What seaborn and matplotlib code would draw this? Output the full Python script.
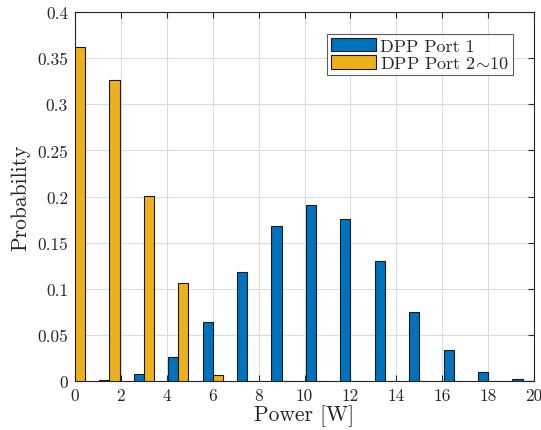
import numpy as np
import pandas as pd
import matplotlib
matplotlib.use("Agg")
import matplotlib.pyplot as plt
import seaborn as sns

# bin centres (W) and probabilities
power = [0, 1.5, 3, 4.5, 6, 7.5, 9, 10.5, 12, 13.5, 15, 16.5, 18, 19.5]
port1 = [0.0, 0.0015, 0.008, 0.026, 0.064, 0.118, 0.168, 0.191, 0.176, 0.130, 0.0746, 0.0333, 0.0102, 0.0022]
port2_10 = [0.3617, 0.3266, 0.2009, 0.1064, 0.0065, 0, 0, 0, 0, 0, 0, 0, 0, 0]

series_names = ["DPP Port 1", r"DPP Port 2$\!\sim\!$10"]
colors = ["#0072BD", "#EDB120"]

xticks = list(range(0, 21, 2))
yticks = [0, 0.05, 0.1, 0.15, 0.2, 0.25, 0.3, 0.35, 0.4]
ytick_labels = ["0", "0.05", "0.1", "0.15", "0.2", "0.25", "0.3", "0.35", "0.4"]

df = pd.DataFrame({
    "power": power * 2,
    "prob": port1 + port2_10,
    "series": [series_names[0]] * len(power) + [series_names[1]] * len(power),
})

sns.set_style("ticks")
plt.rcParams["font.family"] = ["cmr10", "DejaVu Serif"]
plt.rcParams["mathtext.fontset"] = "cm"
plt.rcParams["axes.formatter.use_mathtext"] = True
plt.rcParams["text.color"] = "#262626"

fig = plt.figure(figsize=(5.41, 4.31), dpi=100)
ax = fig.add_axes([75 / 541, 1 - 382 / 431, 459 / 541, 369 / 431])

sns.barplot(data=df, x="power", y="prob", hue="series", hue_order=series_names,
            palette=colors, saturation=1, native_scale=True, width=0.587, gap=0,
            edgecolor="#1a1a1a", linewidth=0.8, ax=ax, zorder=3)

ax.set_xlim(0, 20)
ax.set_ylim(0, 0.4)
ax.set_xticks(xticks)
ax.set_xticklabels([str(t) for t in xticks])
ax.set_yticks(yticks)
ax.set_yticklabels(ytick_labels)
ax.tick_params(direction="in", top=True, right=True, labelsize=12.5, length=4,
               width=0.8, pad=5, labelcolor="#262626")
ax.grid(True, color="#dddddd", linewidth=0.8, zorder=0)
ax.set_axisbelow(True)
for s in ax.spines.values():
    s.set_linewidth(0.8)
    s.set_color("#262626")

ax.set_xlabel("Power [W]", fontsize=15.5, labelpad=1)
ax.set_ylabel("Probability", fontsize=15.5, labelpad=5)

leg = ax.legend(loc="upper left", bbox_to_anchor=(252 / 459, 1 - 22 / 369), fontsize=13,
                frameon=True, fancybox=False, edgecolor="#333333",
                handlelength=2.5, handleheight=0.75, handletextpad=0.25,
                borderpad=0.2, labelspacing=0.1, borderaxespad=0)
leg.get_frame().set_linewidth(0.8)

fig.savefig("out.png", dpi=100)
